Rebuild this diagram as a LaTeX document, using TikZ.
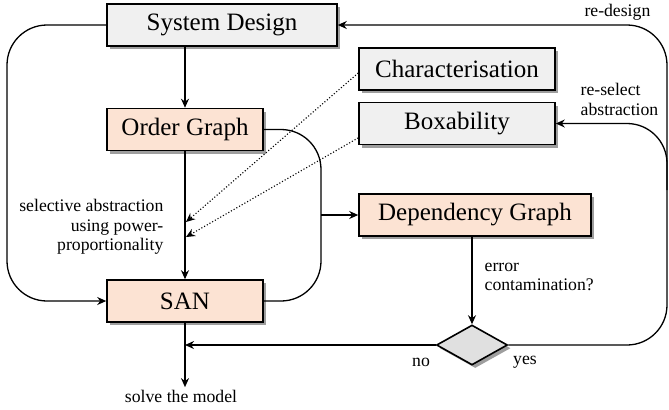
\documentclass[tikz,border=0pt]{standalone}
\usepackage{fontspec}
\setmainfont{Liberation Serif}
\usepackage{tikz}
\usetikzlibrary{arrows.meta,shapes.geometric,shadows}

\definecolor{boxgray}{HTML}{F0F0F0}
\definecolor{boxpeach}{HTML}{FCE3D3}
\definecolor{diagray}{HTML}{E0E0E0}

\tikzset{
  tip/.style={-{Stealth[length=4.5pt,width=4pt]}},
  shad/.style={drop shadow={shadow xshift=1.6pt,shadow yshift=-1.6pt,fill=black!38,opacity=1}},
  graybox/.style={draw,thick,fill=boxgray,shad,minimum height=21pt,inner sep=0pt,font=\fontsize{12.5}{14}\selectfont},
  peachbox/.style={graybox,fill=boxpeach},
  decide/.style={diamond,draw,thick,fill=diagray,shad,minimum width=35.5pt,minimum height=20pt,inner sep=0pt},
  lbl/.style={inner sep=0pt,font=\fontsize{8.85}{9.7}\selectfont}
}

\begin{document}
\begin{tikzpicture}[x=0.5pt,y=-0.5pt,line width=0.65pt]
                \useasboundingbox (0,0) rectangle (669,409);
                % boxes
                \node[graybox,minimum width=115pt] (sys) at (222,25) {System Design};
                \node[peachbox,minimum width=78pt] (og) at (185,129.5) {Order Graph};
                \node[peachbox,minimum width=78pt] (san) at (185,301) {SAN};
                \node[graybox,minimum width=98pt] (char) at (457,69) {Characterisation};
                \node[graybox,minimum width=98pt] (boxa) at (457,123.5) {Boxability};
                \node[peachbox,minimum width=116pt] (dep) at (475,215) {Dependency Graph};
                \node[decide] (dec) at (472,345) {};
                % labels
                \node[lbl,anchor=north east,align=right] (sel) at (164,199) {selective abstraction\\using power-\\proportionality};
                \node[lbl,anchor=north west,align=left] (err) at (484,262) {error\\contamination?};
                \node[lbl] (no) at (421,362) {no};
                \node[lbl] (yes) at (525,362) {yes};
                \node[lbl] (solve) at (181,396) {solve the model};
                \node[lbl,anchor=south east] (rd) at (651,21) {re-design};
                \node[lbl,anchor=north west,align=left] (rs) at (580,83) {re-select\\abstraction};
                % helper points
                \coordinate (lft) at (7,150);
                \coordinate (rgt) at (321,215);
                \coordinate (rr) at (667,200);
                \coordinate (rb) at (667,190);
                \coordinate (a1) at (186,222);
                \coordinate (a2) at (186,237);
                \coordinate (j) at (185,345);
                % connectors
                \draw[tip] (og.north |- sys.south) -- (og.north);
                \draw[tip] (og.south) -- (san.north);
                \draw[tip,rounded corners=20pt] (sys.west) -| (lft) |- (san.west);
                \draw[rounded corners=20pt] (og.east) -| (rgt) |- (san.east);
                \draw[tip] (rgt) -- (dep.west);
                \draw[tip,densely dotted,line width=0.55pt] ([yshift=-2pt]char.west) -- (a1);
                \draw[tip,densely dotted,line width=0.55pt] ([yshift=-7.2pt]boxa.west) -- (a2);
                \draw[tip] (dec.north |- dep.south) -- (dec.north);
                \draw[tip] (dec.west) -- (j);
                \draw[tip] (san.south) -- ([yshift=1pt]san.south |- solve.north);
                \draw[tip,rounded corners=20pt] (dec.east) -| (rr) |- (sys.east);
                \draw[tip,rounded corners=20pt] (rb) |- (boxa.east);
            \end{tikzpicture}
\end{document}
